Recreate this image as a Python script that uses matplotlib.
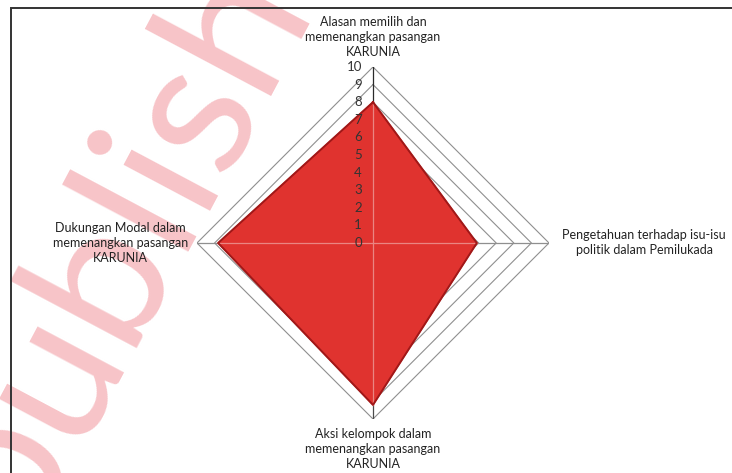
import numpy as np
import matplotlib.pyplot as plt
from matplotlib.transforms import offset_copy

# radar data, clockwise from the top
categories = [
    "Alasan memilih dan\nmemenangkan pasangan\nKARUNIA",
    "Pengetahuan terhadap isu-isu\npolitik dalam Pemilukada",
    "Aksi kelompok dalam\nmemenangkan pasangan\nKARUNIA",
    "Dukungan Modal dalam\nmemenangkan pasangan\nKARUNIA",
]
values = [8.0, 5.9, 9.2, 8.8]
levels = list(range(0, 11))
tick_labels = [str(v) for v in levels]

plt.rcParams['font.family'] = ['Lato', 'DejaVu Sans']

fig = plt.figure(figsize=(7.32, 4.73), dpi=100)
ax = fig.add_axes([0.2691, 0.1142, 0.4809, 0.7442], projection='polar')
ax.set_theta_offset(np.pi / 2)
ax.set_theta_direction(-1)
ax.set_ylim(0, 10)
ax.axis('off')

theta = np.linspace(0, 2 * np.pi, len(values), endpoint=False)
theta_c = np.append(theta, theta[0])
values_c = values + values[:1]

# diamond grid rings
for lvl in levels[1:]:
    ax.plot(theta_c, [lvl] * len(theta_c), color='#8f8f8f', lw=0.8, zorder=1)

# spokes
spoke_cols = ['#2a2a2a', '#8f8f8f', '#4a4a4a', '#8f8f8f']
for t, c in zip(theta, spoke_cols):
    ax.plot([t, t], [0, levels[-1]], color=c, lw=0.9, zorder=1)

ax.fill(theta_c, values_c, color='#E0332F', zorder=2)
ax.plot(theta_c, values_c, color='#A01818', lw=1.4, zorder=3)
for t, v in zip(theta, values):
    ax.plot([t, t], [0, v], color='#EA8582', lw=0.9, zorder=2.5)

# value labels along the top spoke
tr = offset_copy(ax.transData, fig=fig, x=-11, y=0, units='dots')
for lvl, lab in zip(levels, tick_labels):
    ax.text(0, lvl, lab, transform=tr, ha='right', va='center',
            fontsize=9.5, color='#333333', zorder=4)

lab_kw = dict(fontsize=9, color='#222222', linespacing=1.3, multialignment='center')
ax.text(theta[0], 10.5, categories[0], ha='center', va='bottom', **lab_kw)
ax.text(theta[1], 10.75, categories[1], ha='left', va='center', **lab_kw)
ax.text(theta[2], 10.5, categories[2], ha='center', va='top', **lab_kw)
ax.text(theta[3], 10.5, categories[3], ha='right', va='center', **lab_kw)

# watermark
fig.text(0.226, 0.43, 'publish', rotation=62, rotation_mode='anchor',
         ha='center', va='baseline', fontsize=140, fontweight='normal',
         color='#F7C4C8', zorder=-1)

# chart frame
fig.add_artist(plt.Rectangle((11 / 732, -0.1), 1.0, 1 - 8 / 473 + 0.1,
                             transform=fig.transFigure, fill=False,
                             ec='#333333', lw=1.4, zorder=5))

fig.savefig('out.png', dpi=100)
